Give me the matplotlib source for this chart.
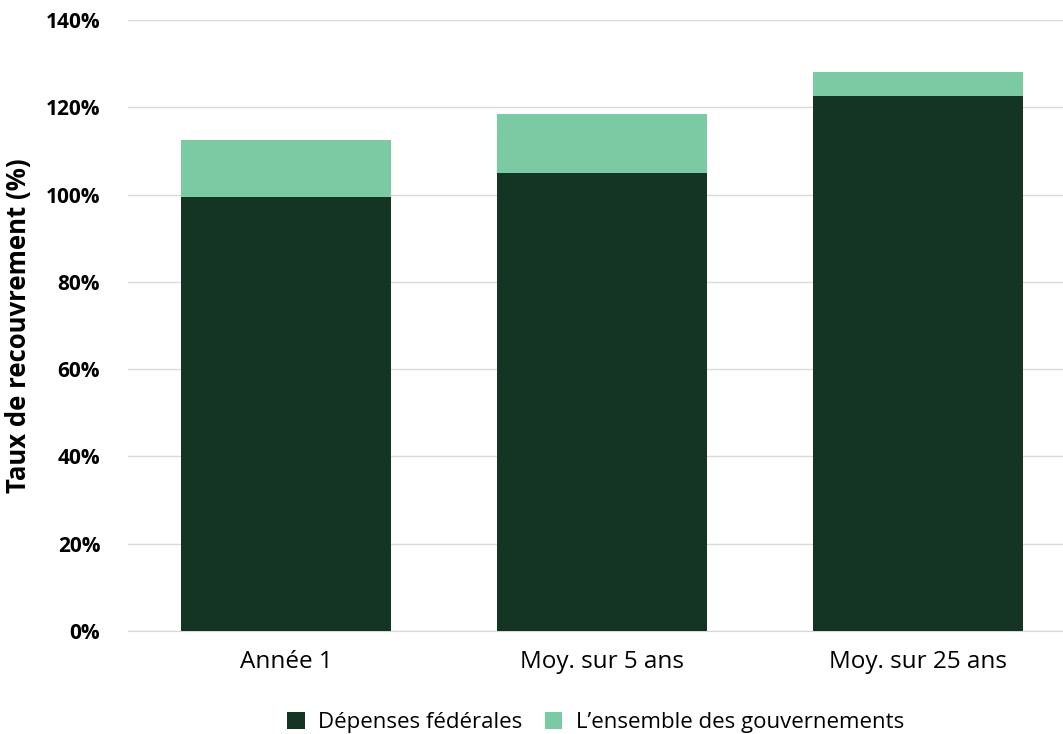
import matplotlib
matplotlib.use('Agg')
import matplotlib.pyplot as plt
import numpy as np

categories = ['Année 1', 'Moy. sur 5 ans', 'Moy. sur 25 ans']
federal = [99.5, 105.0, 122.5]
all_gov = [112.5, 118.5, 128.1]
y_ticks = [0, 20, 40, 60, 80, 100, 120, 140]

dark = '#143424'
light = '#7ccaa3'

plt.rcParams['font.family'] = ['Open Sans', 'DejaVu Sans']

fig = plt.figure(figsize=(10.63, 7.34), dpi=100)
ax = fig.add_axes([128 / 1063, 103 / 734, 1 - 128 / 1063, 611 / 734])

x = np.arange(len(categories))
extra = [a - f for a, f in zip(all_gov, federal)]
ax.bar(x, federal, width=0.665, color=dark, label='Dépenses fédérales', zorder=3)
ax.bar(x, extra, bottom=federal, width=0.665, color=light,
       label='L\u2019ensemble des gouvernements', zorder=3)

ax.set_xlim(-0.5, 2.459)
ax.set_ylim(0, 140)
ax.set_yticks(y_ticks)
ax.set_yticklabels([f'{v}%' for v in y_ticks], fontweight='bold', fontsize=15)
ax.set_xticks(x)
ax.set_xticklabels(categories, fontsize=17.5)
ax.tick_params(axis='both', length=0)
ax.tick_params(axis='y', pad=20)
ax.tick_params(axis='x', pad=14)
ax.grid(axis='y', color='#d9d9d9', linewidth=1, zorder=0)
for s in ['top', 'right', 'left']:
    ax.spines[s].set_visible(False)
ax.spines['bottom'].set_color('#d9d9d9')
ax.set_ylabel('Taux de recouvrement (%)', fontweight='bold', fontsize=18.5, labelpad=10)

ax.legend(loc='upper center', bbox_to_anchor=(0.5, -0.1), ncol=2, frameon=False,
          fontsize=16, handlelength=0.8, handleheight=0.8, columnspacing=1.0,
          handletextpad=0.6)

fig.savefig('out.png', dpi=100)
